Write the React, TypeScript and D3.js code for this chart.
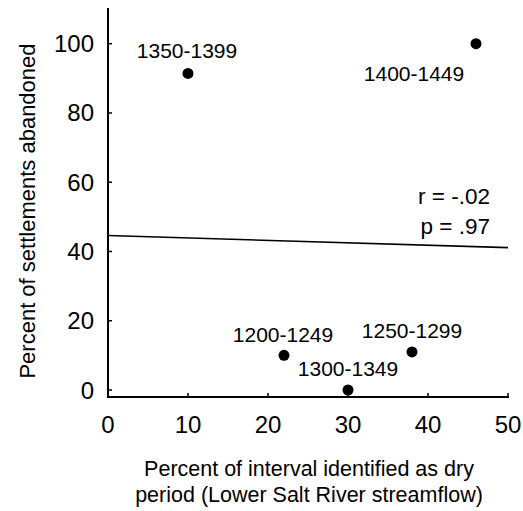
import React from "react";
import * as d3 from "d3";

// ---- data ----
const periods = ["1200-1249", "1250-1299", "1300-1349", "1350-1399", "1400-1449"];
const dryPercent = [22, 38, 30, 10, 46];
const abandonedPercent = [10, 11, 0, 91.4, 100];
const xTicks = [0, 10, 20, 30, 40, 50];
const yTicks = [0, 20, 40, 60, 80, 100];
const fitLineX = [0, 50];
const fitLineY = [44.6, 41.1];
const statsText = ["r = -.02", "p = .97"];
const xTitleLines = ["Percent of interval identified as dry", "period (Lower Salt River streamflow)"];
const yTitle = "Percent of settlements abandoned";

// label placement (pixel offsets from point): layout, not data
const labelOffsets: Record<string, [number, number]> = {
  "1200-1249": [-1, -13.5],
  "1250-1299": [0, -13.5],
  "1300-1349": [0, -14.5],
  "1350-1399": [-1, -15],
  "1400-1449": [-62, 37],
};

const W = 523;
const H = 511;
const FONT = "'Liberation Sans', Arial, Helvetica, sans-serif";

export default function App() {
  const x = d3.scaleLinear().domain([0, 50]).range([108, 508]);
  const y = d3.scaleLinear().domain([0, 100]).range([390, 43.7]);
  const axisY = 397;
  const axisTop = 8;

  const line = d3
    .line<number>()
    .x((_, i) => x(fitLineX[i]))
    .y((d) => y(d));

  return (
    <svg
      width={W}
      height={H}
      style={{ position: "absolute", left: 0, top: 0, background: "#fff" }}
      fontFamily={FONT}
    >
      <rect x={0} y={0} width={W} height={H} fill="#fff" />
      {/* regression line */}
      <path d={line(fitLineY) || ""} fill="none" stroke="#000" strokeWidth={1.6} />

      {/* axes */}
      <line x1={x(0)} x2={x(0)} y1={axisTop} y2={axisY + 1} stroke="#000" strokeWidth={2} />
      <line x1={x(0) - 1} x2={x(50) + 1} y1={axisY} y2={axisY} stroke="#000" strokeWidth={2} />

      {yTicks.map((t) => (
        <g key={"yt" + t}>
          <line x1={x(0)} x2={x(0) + 4} y1={y(t)} y2={y(t)} stroke="#000" strokeWidth={1.5} />
          <text x={94} y={y(t) + 8.5} textAnchor="end" fontSize={24} fill="#000">
            {t}
          </text>
        </g>
      ))}

      {xTicks.map((t) => (
        <g key={"xt" + t}>
          <line x1={x(t)} x2={x(t)} y1={axisY} y2={axisY - 4} stroke="#000" strokeWidth={1.5} />
          <text x={x(t)} y={432.5} textAnchor="middle" fontSize={24} fill="#000">
            {t}
          </text>
        </g>
      ))}

      {/* points */}
      {periods.map((p, i) => (
        <circle key={"pt" + p} cx={x(dryPercent[i])} cy={y(abandonedPercent[i])} r={5.5} fill="#000" />
      ))}

      {/* point labels */}
      {periods.map((p, i) => (
        <text
          key={"lb" + p}
          x={x(dryPercent[i]) + labelOffsets[p][0]}
          y={y(abandonedPercent[i]) + labelOffsets[p][1]}
          textAnchor="middle"
          fontSize={21}
          fill="#000"
        >
          {p}
        </text>
      ))}

      {/* stats */}
      {statsText.map((s, i) => (
        <text key={"st" + i} x={490} y={204 + i * 30} textAnchor="end" fontSize={22.5} fill="#000">
          {s}
        </text>
      ))}

      {/* x title */}
      {xTitleLines.map((s, i) => (
        <text key={"xl" + i} x={309} y={476 + i * 26} textAnchor="middle" fontSize={21.5} fill="#000">
          {s}
        </text>
      ))}

      {/* y title */}
      <text transform={`translate(35,211) rotate(-90)`} textAnchor="middle" fontSize={22} fill="#000">
        {yTitle}
      </text>
    </svg>
  );
}
